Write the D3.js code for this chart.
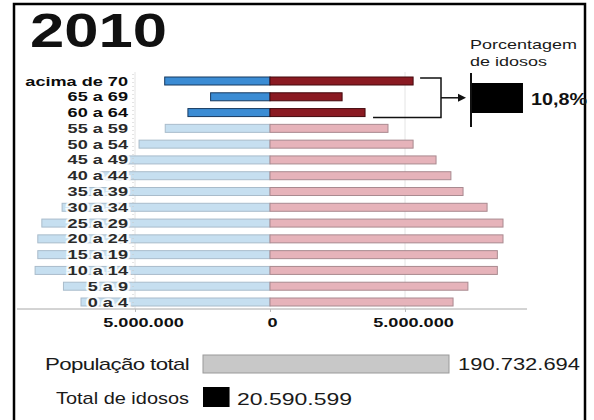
<!DOCTYPE html>
<html>
<head>
<meta charset="utf-8">
<script src="https://cdn.jsdelivr.net/npm/d3@7"></script>
<style>
  html, body { margin: 0; padding: 0; background: #fff; }
  svg { display: block; font-family: "Liberation Sans", Arial, sans-serif; }
</style>
</head>
<body>
<svg id="chart" width="594" height="420"></svg>
<script>
// Pirâmide etária do Brasil, Censo 2010 (faixas de cima para baixo)
const faixas = ["acima de 70", "65 a 69", "60 a 64", "55 a 59", "50 a 54", "45 a 49",
  "40 a 44", "35 a 39", "30 a 34", "25 a 29", "20 a 24", "15 a 19", "10 a 14", "5 a 9", "0 a 4"];
const homens = [3900000, 2200000, 3040000, 3880000, 4850000, 5700000, 6300000, 6800000,
  7700000, 8450000, 8600000, 8600000, 8700000, 7650000, 7000000];
const mulheres = [5300000, 2670000, 3520000, 4370000, 5300000, 6150000, 6700000, 7150000,
  8040000, 8630000, 8630000, 8420000, 8420000, 7330000, 6780000];
const faixasIdosos = ["acima de 70", "65 a 69", "60 a 64"];
const ticks = [-5000000, 0, 5000000];
const porcentagemIdosos = 10.8;
const populacaoTotal = 190732694;
const totalIdosos = 20590599;

const svg = d3.select("#chart");
const br = d3.formatLocale({ decimal: ",", thousands: ".", grouping: [3], currency: ["R$", ""] });
const fmtInt = br.format(",d");
const fmtPct = br.format(",.1f");

// widen text horizontally around its anchor point
function stretch(sel, k) {
  sel.each(function () {
    const t = d3.select(this);
    const x = +t.attr("x") || 0, y = +t.attr("y") || 0;
    t.attr("x", 0).attr("y", 0).attr("transform", `translate(${x},${y}) scale(${k},1)`);
  });
}
function fit(sel, w) {
  sel.attr("textLength", w).attr("lengthAdjust", "spacingAndGlyphs");
}

// frame
svg.append("rect").attr("x", 14).attr("y", 4).attr("width", 571).attr("height", 430)
  .attr("fill", "none").attr("stroke", "#000").attr("stroke-width", 2.5);

// title
svg.append("text").attr("x", 30).attr("y", 47)
  .attr("font-size", 49).attr("font-weight", 700).attr("fill", "#111")
  .text("2010").call(fit, 137);

// scales
const x = d3.scaleLinear().domain([-5000000, 5000000]).range([135, 405]);
const y = d3.scalePoint().domain(faixas).range([81, 302]);
const barH = 8;
const isIdoso = f => faixasIdosos.includes(f);

const plot = svg.append("g");

// faint gridlines
plot.selectAll("line.grid").data(ticks.filter(t => t !== 0)).join("line")
  .attr("class", "grid")
  .attr("x1", d => x(d)).attr("x2", d => x(d))
  .attr("y1", 72).attr("y2", 309)
  .attr("stroke", "#e4e4e4").attr("stroke-width", 1);

// male bars (left)
plot.selectAll("rect.h").data(faixas).join("rect")
  .attr("class", "h")
  .attr("x", (f, i) => x(-homens[i]))
  .attr("y", f => y(f) - barH / 2)
  .attr("width", (f, i) => x(0) - x(-homens[i]))
  .attr("height", barH)
  .attr("fill", f => isIdoso(f) ? "#3b8cd4" : "#c6dff0")
  .attr("stroke", f => isIdoso(f) ? "#173a60" : "#a9bccb")
  .attr("stroke-width", 1);

// female bars (right)
plot.selectAll("rect.m").data(faixas).join("rect")
  .attr("class", "m")
  .attr("x", x(0))
  .attr("y", f => y(f) - barH / 2)
  .attr("width", (f, i) => x(mulheres[i]) - x(0))
  .attr("height", barH)
  .attr("fill", f => isIdoso(f) ? "#8a1a22" : "#e6b3ba")
  .attr("stroke", f => isIdoso(f) ? "#44090d" : "#a98a90")
  .attr("stroke-width", 1);

// dotted guide next to the age labels
plot.append("line").attr("x1", 133).attr("x2", 133).attr("y1", 74).attr("y2", 308)
  .attr("stroke", "#c8c8c8").attr("stroke-dasharray", "1,3");

// age labels with white halo
plot.selectAll("text.faixa").data(faixas).join("text")
  .attr("class", "faixa")
  .attr("x", 128).attr("y", f => y(f) + 4.5)
  .attr("text-anchor", "end")
  .attr("font-size", 12.5).attr("font-weight", 700)
  .attr("fill", f => isIdoso(f) ? "#0c0c0c" : "#2a2a2a")
  .attr("stroke", "#fff").attr("stroke-width", 3.5).attr("stroke-opacity", 0.85)
  .attr("paint-order", "stroke")
  .text(f => f)
  .call(stretch, 1.45);

// x axis
const axisY = 309;
svg.append("line").attr("x1", x(-9370000)).attr("x2", x(9520000))
  .attr("y1", axisY).attr("y2", axisY)
  .attr("stroke", "#a8a8a8").attr("stroke-width", 1);
const axis = svg.append("g").attr("transform", `translate(0,${axisY})`)
  .call(d3.axisBottom(x).tickValues(ticks).tickSize(3).tickFormat(d => fmtInt(Math.abs(d))));
axis.select(".domain").remove();
axis.selectAll(".tick line").attr("stroke", "#bbb");
axis.selectAll(".tick text")
  .attr("font-family", "Liberation Sans, Arial, sans-serif")
  .attr("font-size", 12.5).attr("font-weight", 700).attr("fill", "#111")
  .attr("y", 18).attr("dy", 0)
  .attr("x", d => d === 0 ? 2 : 8)
  .each(function () {
    const t = d3.select(this);
    t.attr("transform", `translate(${t.attr("x")},18) scale(1.45,1)`).attr("x", 0).attr("y", 0);
  });

// bracket grouping the elderly rows
const iTop = 0, iBot = faixasIdosos.length - 1;
const bx = 441;
const yTop = y(faixasIdosos[iTop]) - 3, yBot = y(faixasIdosos[iBot]) + 5;
const brk = svg.append("g").attr("stroke", "#111").attr("stroke-width", 1.5).attr("fill", "none");
brk.append("path").attr("d",
  `M${x(mulheres[iTop]) + 7},${yTop} H${bx} V${yBot} H${x(mulheres[iBot]) + 8}`);
const yMid = (yTop + yBot) / 2;
brk.append("line").attr("x1", bx).attr("x2", 459).attr("y1", yMid).attr("y2", yMid);
svg.append("path").attr("d", `M466,${yMid} L458,${yMid - 4} L458,${yMid + 4} Z`).attr("fill", "#111");

// share of elderly
const p = d3.scaleLinear().domain([0, 100]).range([0, 472]);
svg.append("text").attr("x", 470).attr("y", 49)
  .attr("font-size", 12).attr("fill", "#1a1a1a").text("Porcentagem").call(stretch, 1.5);
svg.append("text").attr("x", 470).attr("y", 66)
  .attr("font-size", 12).attr("fill", "#1a1a1a").text("de idosos").call(stretch, 1.5);
svg.append("line").attr("x1", 471).attr("x2", 471).attr("y1", 73).attr("y2", 127)
  .attr("stroke", "#111").attr("stroke-width", 2);
svg.append("rect").attr("x", 472).attr("y", 83)
  .attr("width", p(porcentagemIdosos)).attr("height", 30).attr("fill", "#000");
svg.append("text").attr("x", 531).attr("y", 105)
  .attr("font-size", 16.5).attr("font-weight", 700).attr("fill", "#111")
  .text(fmtPct(porcentagemIdosos) + "%").call(fit, 56);

// totals
const t = d3.scaleLinear().domain([0, populacaoTotal]).range([203, 449]);
svg.append("text").attr("x", 45).attr("y", 370)
  .attr("font-size", 17).attr("fill", "#1a1a1a").attr("letter-spacing", -0.5)
  .text("População total").call(fit, 144);
svg.append("rect").attr("x", t(0)).attr("y", 355)
  .attr("width", t(populacaoTotal) - t(0)).attr("height", 18)
  .attr("fill", "#c8c8c8").attr("stroke", "#9a9a9a").attr("stroke-width", 1);
svg.append("text").attr("x", 458).attr("y", 370)
  .attr("font-size", 17).attr("fill", "#1a1a1a")
  .text(fmtInt(populacaoTotal)).call(fit, 122);

svg.append("text").attr("x", 56).attr("y", 404)
  .attr("font-size", 17).attr("fill", "#1a1a1a")
  .text("Total de idosos").call(fit, 133);
svg.append("rect").attr("x", t(0)).attr("y", 387)
  .attr("width", t(totalIdosos) - t(0)).attr("height", 20).attr("fill", "#000");
svg.append("text").attr("x", 237).attr("y", 405)
  .attr("font-size", 17).attr("fill", "#1a1a1a")
  .text(fmtInt(totalIdosos)).call(fit, 115);
</script>
</body>
</html>
